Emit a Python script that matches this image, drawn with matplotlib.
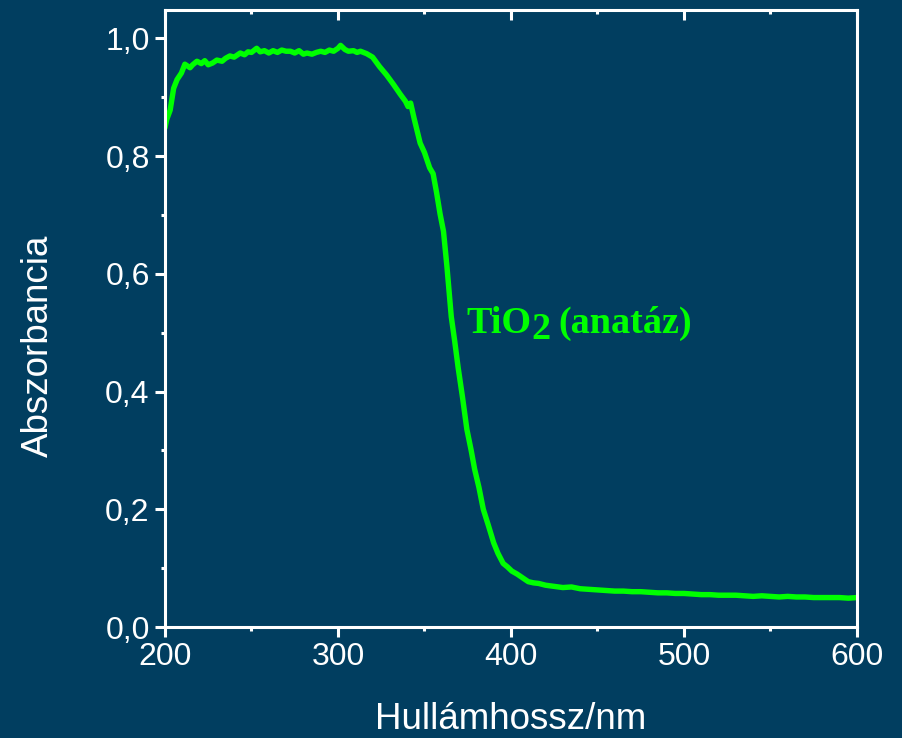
import matplotlib
matplotlib.use("Agg")
import matplotlib.pyplot as plt
from matplotlib.ticker import MultipleLocator, FixedLocator

# ---- data ----
wavelength = [200, 201, 203, 205, 207, 209.5, 211.5, 214.5, 216, 218.5, 221, 223, 225,
              227.5, 230, 233, 235, 237.5, 240, 243.5, 246, 248, 250, 253, 255, 257.5,
              260, 262.5, 265, 267.5, 270, 272.5, 275, 277.5, 280, 282, 285, 287.5, 290,
              292.5, 295, 297.5, 300, 301.5, 304, 306, 309, 311, 313, 316.5, 320, 324,
              328, 332, 336, 339, 340.5, 342, 344, 347.5, 350, 353, 355, 357, 359, 361,
              363, 365.5, 367.5, 369.5, 372, 374.5, 377, 379, 381.5, 384, 387, 390,
              392.5, 395.5, 398, 400.5, 403.5, 407, 410, 413, 416, 420, 425, 430, 435,
              440, 445, 450, 455, 460, 465, 470, 475, 480, 485, 490, 495, 500, 505, 510,
              515, 520, 525, 530, 535, 540, 545, 550, 555, 560, 565, 570, 575, 580, 585,
              590, 595, 600]
absorbance = [0.848, 0.862, 0.878, 0.915, 0.930, 0.941, 0.956, 0.950, 0.955, 0.961,
              0.957, 0.962, 0.955, 0.958, 0.963, 0.961, 0.966, 0.970, 0.968, 0.975,
              0.972, 0.977, 0.976, 0.983, 0.977, 0.979, 0.975, 0.979, 0.976, 0.980,
              0.978, 0.978, 0.975, 0.979, 0.973, 0.975, 0.973, 0.976, 0.978, 0.976,
              0.980, 0.978, 0.983, 0.988, 0.981, 0.978, 0.979, 0.976, 0.978, 0.974,
              0.968, 0.952, 0.938, 0.922, 0.905, 0.893, 0.884, 0.890, 0.864, 0.822,
              0.806, 0.780, 0.770, 0.738, 0.702, 0.672, 0.612, 0.527, 0.485, 0.440,
              0.390, 0.336, 0.300, 0.268, 0.237, 0.200, 0.172, 0.143, 0.125, 0.108,
              0.102, 0.095, 0.090, 0.083, 0.077, 0.075, 0.074, 0.071, 0.069, 0.067,
              0.068, 0.065, 0.064, 0.063, 0.062, 0.061, 0.061, 0.060, 0.060, 0.059,
              0.058, 0.058, 0.057, 0.057, 0.056, 0.055, 0.055, 0.054, 0.054, 0.054,
              0.053, 0.052, 0.053, 0.052, 0.051, 0.052, 0.051, 0.051, 0.050, 0.050,
              0.050, 0.050, 0.049, 0.050]

x_ticks = [200, 300, 400, 500, 600]
x_ticklabels = ["200", "300", "400", "500", "600"]
y_ticks = [0.0, 0.2, 0.4, 0.6, 0.8, 1.0]
y_ticklabels = ["0,0", "0,2", "0,4", "0,6", "0,8", "1,0"]

BG = "#013E60"
GREEN = "#00FF00"

plt.rcParams['font.family'] = ['Liberation Sans', 'DejaVu Sans']

fig = plt.figure(figsize=(9.03, 7.38), dpi=100, facecolor=BG)
ax = fig.add_axes([0.1827, 0.1504, 0.949 - 0.1827, 0.9864 - 0.1504])
ax.set_facecolor(BG)

ax.plot(wavelength, absorbance, color=GREEN, lw=3.9, solid_joinstyle='round',
        solid_capstyle='round')

ax.set_xlim(200, 600)
ax.set_ylim(0, 1.048)

for s in ax.spines.values():
    s.set_color("white")
    s.set_linewidth(2.2)

ax.xaxis.set_major_locator(FixedLocator(x_ticks))
ax.set_xticklabels(x_ticklabels)
ax.yaxis.set_major_locator(FixedLocator(y_ticks))
ax.set_yticklabels(y_ticklabels)
ax.xaxis.set_minor_locator(MultipleLocator(50))
ax.yaxis.set_minor_locator(MultipleLocator(0.1))

ax.tick_params(axis='both', which='major', colors='white', labelsize=23,
               length=7, width=2.2, direction='out', pad=4)
ax.tick_params(axis='both', which='minor', colors='white', length=3.2,
               width=2.2, direction='out')
ax.tick_params(axis='x', which='both', top=True)
# top ticks point inward
for t in ax.xaxis.get_major_ticks():
    t.tick2line.set_marker(3)  # TICKDOWN
for t in ax.xaxis.get_minor_ticks():
    t.tick2line.set_marker(3)

ax.set_xlabel("Hullámhossz/nm", color="white", fontsize=26.5)
ax.set_ylabel("Abszorbancia", color="white", fontsize=26.5)
ax.xaxis.set_label_coords(0.5, -0.121)
ax.yaxis.set_label_coords(-0.158, 0.455)

# annotation  TiO2 (anatáz)
serif = ['Liberation Serif', 'DejaVu Serif']
t1 = ax.text(374, 0.499, "TiO", color=GREEN, fontsize=27.5, fontweight='bold',
             family=serif, ha='left', va='baseline')
t2 = ax.annotate("2", xy=(1, 0), xycoords=t1, xytext=(0, -4),
                 textcoords='offset points', color=GREEN, fontsize=27.5,
                 fontweight='bold', family=serif, ha='left', va='bottom')
t3 = ax.annotate("(anatáz)", xy=(1, 0), xycoords=t2, xytext=(6, 4),
                 textcoords='offset points', color=GREEN, fontsize=27.5,
                 fontweight='bold', family=serif, ha='left', va='bottom')

fig.savefig("out.png", dpi=100, facecolor=BG)
